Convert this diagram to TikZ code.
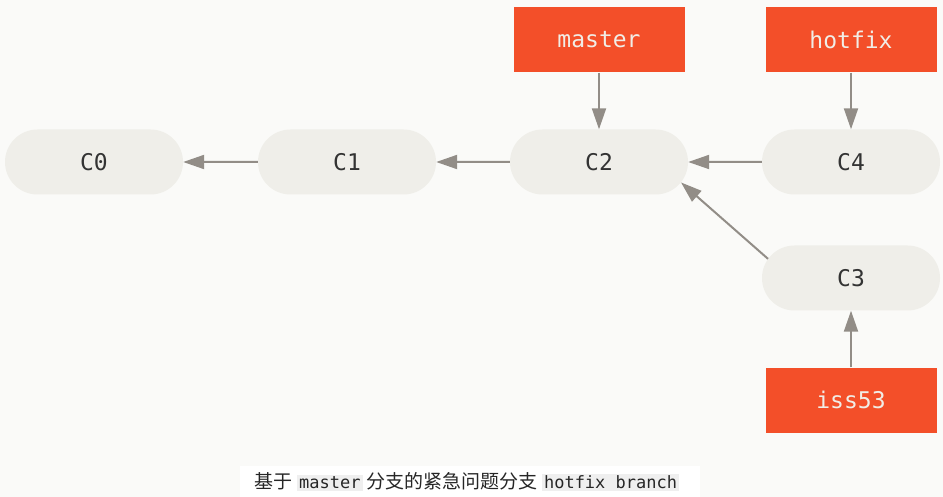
\documentclass[tikz,border=0pt]{standalone}
\usepackage{fontspec}
\setmonofont{DejaVu Sans Mono}
\newfontfamily\cjk{Noto Sans CJK SC}
\usetikzlibrary{arrows.meta,shapes.misc}
\definecolor{pagebg}{HTML}{FAFAF8}
\definecolor{commitfill}{HTML}{EFEEE9}
\definecolor{branchred}{HTML}{F34F29}
\definecolor{branchtext}{HTML}{F1EDE6}
\definecolor{arrowgray}{HTML}{928D87}
\definecolor{codebg}{HTML}{EFEFEF}
\newcommand\codebit[1]{{\setlength{\fboxsep}{2pt}\colorbox{codebg}{\ttfamily\fontsize{17}{17}\selectfont #1}}}

\begin{document}
\begin{tikzpicture}[
  x=1pt, y=-1pt,
  commitnode/.style={rounded rectangle, fill=commitfill, minimum width=178pt, minimum height=65pt, inner sep=0pt, text=black!80, font=\ttfamily\fontsize{23}{23}\selectfont},
  branchnode/.style={rectangle, fill=branchred, minimum width=171pt, minimum height=65pt, inner sep=0pt, text=branchtext, font=\ttfamily\fontsize{23}{23}\selectfont},
  link/.style={draw=arrowgray, line width=2pt, -{Triangle[length=21pt,width=14pt]}},
]
\fill[pagebg] (0,0) rectangle (943,497);
\fill[white] (240,466) rectangle (700,497);
\useasboundingbox (0,0) rectangle (943,497);

\node[commitnode] (c0) at (94,162) {C0};
\node[commitnode] (c1) at (347,162) {C1};
\node[commitnode] (c2) at (599,162) {C2};
\node[commitnode] (c4) at (851,162) {C4};
\node[commitnode] (c3) at (851,278) {C3};

\node[branchnode] (master) at (599,40) {master};
\node[branchnode] (hotfix) at (851,40) {hotfix};
\node[branchnode] (iss53) at (851,400) {iss53};

\draw[link] (c1) -- (c0);
\draw[link] (c2) -- (c1);
\draw[link] (c4) -- (c2);
\draw[link] (c3.167) -- (c2.-14);

\draw[link] (master) -- (c2);
\draw[link] (hotfix) -- (c4);
\draw[link] (iss53) -- (c3);

\node[text=black!85] (caption) at (467,482)
  {\cjk\fontsize{19}{19}\selectfont 基于 \codebit{master} 分支的紧急问题分支 \codebit{hotfix branch}};

\end{tikzpicture}
\end{document}
